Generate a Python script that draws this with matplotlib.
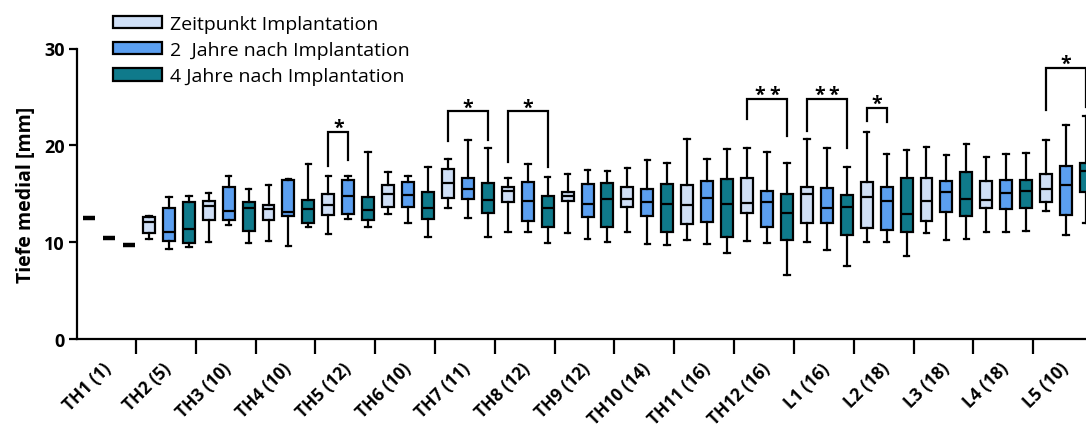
import matplotlib
matplotlib.use("Agg")
import matplotlib.pyplot as plt
from matplotlib.patches import Patch
import matplotlib.transforms as mtransforms

# ---------------- data ----------------
levels = ["TH1", "TH2", "TH3", "TH4", "TH5", "TH6", "TH7", "TH8", "TH9",
          "TH10", "TH11", "TH12", "L1", "L2", "L3", "L4", "L5"]
counts = [1, 5, 10, 10, 12, 10, 11, 12, 12, 14, 16, 16, 16, 18, 18, 18, 10]
series_names = ["Zeitpunkt Implantation", "2  Jahre nach Implantation",
                "4 Jahre nach Implantation"]

# (whisker low, Q1, median, Q3, whisker high) per level
implantation = [
    (12.5, 12.5, 12.5, 12.5, 12.5), (10.3, 10.9, 12.1, 12.6, 12.7),
    (10.0, 12.3, 13.7, 14.3, 15.1), (10.1, 12.3, 13.4, 13.8, 15.9),
    (10.8, 12.8, 13.8, 15.0, 16.8), (12.9, 13.6, 15.0, 15.9, 17.2),
    (13.5, 14.6, 16.1, 17.6, 18.6), (11.1, 14.1, 15.3, 15.7, 16.6),
    (10.9, 14.3, 14.8, 15.2, 17.0), (11.1, 13.6, 14.5, 15.7, 17.7),
    (10.2, 11.9, 13.8, 15.9, 20.7), (10.1, 13.0, 14.0, 16.6, 19.7),
    (10.0, 12.0, 15.0, 15.7, 20.7), (10.0, 11.5, 14.7, 16.2, 21.4),
    (10.9, 12.2, 14.3, 16.6, 19.8), (11.1, 13.5, 14.4, 16.3, 18.8),
    (13.2, 14.1, 15.5, 17.0, 20.6),
]
two_years = [
    (10.4, 10.4, 10.4, 10.4, 10.4), (9.3, 10.1, 11.1, 13.5, 14.7),
    (11.8, 12.3, 13.2, 15.7, 16.8), (9.6, 12.7, 13.1, 16.4, 16.5),
    (12.4, 12.9, 14.8, 16.4, 16.8), (12.0, 13.6, 14.9, 16.2, 16.8),
    (12.5, 14.5, 15.5, 16.6, 20.5), (11.1, 12.2, 14.2, 16.2, 18.1),
    (10.3, 12.6, 13.9, 16.0, 17.5), (9.8, 12.7, 14.1, 15.5, 18.5),
    (9.8, 12.1, 14.6, 16.3, 18.6), (9.9, 11.6, 14.1, 15.3, 19.3),
    (9.2, 12.0, 13.5, 15.6, 19.7), (10.0, 11.3, 14.3, 15.7, 19.1),
    (10.2, 13.1, 15.2, 16.3, 19.0), (11.1, 13.4, 15.1, 16.4, 19.1),
    (10.7, 12.8, 15.9, 17.9, 22.1),
]
four_years = [
    (9.7, 9.7, 9.7, 9.7, 9.7), (9.5, 9.9, 11.4, 14.1, 14.8),
    (9.9, 11.2, 13.5, 14.1, 15.5), (11.6, 12.0, 13.4, 14.4, 18.1),
    (11.6, 12.3, 13.3, 14.7, 19.3), (10.5, 12.4, 13.5, 15.2, 17.8),
    (10.5, 13.0, 14.4, 16.1, 19.7), (9.9, 11.6, 13.5, 14.8, 16.7),
    (10.0, 11.6, 14.5, 16.1, 17.4), (9.7, 11.1, 13.9, 16.0, 18.2),
    (8.9, 10.5, 13.9, 16.5, 19.6), (6.6, 10.2, 13.0, 15.0, 18.2),
    (7.5, 10.7, 13.6, 14.9, 17.8), (8.6, 11.0, 12.9, 16.6, 19.5),
    (10.3, 12.7, 14.5, 17.2, 20.1), (11.2, 13.5, 15.3, 16.4, 19.2),
    (12.0, 15.2, 17.3, 18.2, 23.0),
]

# significance: (level index, series a, series b, bracket top, leg a end, leg b end, label)
brackets = [
    (4, 0, 1, 21.4, 17.9, 18.5, "*"),
    (6, 0, 2, 23.5, 20.4, 20.5, "*"),
    (7, 0, 2, 23.5, 18.3, 17.8, "*"),
    (11, 0, 2, 24.8, 22.7, 21.0, "**"),
    (12, 0, 2, 24.8, 21.5, 19.7, "**"),
    (13, 0, 1, 23.9, 22.5, 22.4, "*"),
    (16, 0, 2, 28.0, 23.7, 24.0, "*"),
]

y_ticks = [0, 10, 20, 30]
colors = ["#cfdff6", "#5b9ff0", "#0f7a8b"]

# ---------------- plot ----------------
W, H = 1086, 435
fig = plt.figure(figsize=(W / 100, H / 100), dpi=100)
ax = fig.add_axes([77.3 / W, (H - 340) / H, 1 - 77.3 / W, (340 - 49.5) / H])

FONT = "Open Sans"
lw = 1.6
all_series = [implantation, two_years, four_years]
for s, data in enumerate(all_series):
    stats = []
    pos = []
    for g, (lo, q1, med, q3, hi) in enumerate(data):
        stats.append(dict(whislo=lo, q1=q1, med=med, q3=q3, whishi=hi, fliers=[]))
        pos.append(3 * g + s)
    bp = ax.bxp(stats, positions=pos, widths=0.6, patch_artist=True,
                showfliers=False, capwidths=0.28,
                boxprops=dict(facecolor=colors[s], edgecolor="black", linewidth=lw),
                whiskerprops=dict(color="black", linewidth=lw),
                capprops=dict(color="black", linewidth=lw),
                medianprops=dict(color="black", linewidth=lw))
    for st, med_line in zip(stats, bp["medians"]):
        if st["q1"] == st["q3"]:
            med_line.set_linewidth(3.2)
    for art in bp["boxes"] + bp["whiskers"] + bp["caps"] + bp["medians"]:
        art.set_clip_on(False)

# brackets
for g, a, b, top, ya, yb, lab in brackets:
    xa, xb = 3 * g + a, 3 * g + b
    ax.plot([xa, xa, xb, xb], [ya, top, top, yb], color="black", lw=lw,
            clip_on=False, solid_joinstyle="miter")
    n = len(lab)
    for k in range(n):
        off = mtransforms.offset_copy(ax.transData, fig=fig,
                                      x=(k - (n - 1) / 2) * 10.5, y=-1, units="points")
        ax.text((xa + xb) / 2, top, "*", transform=off, ha="center", va="baseline",
                fontsize=14, fontweight="bold", family=FONT, clip_on=False)

ax.set_xlim(-0.59, 50.0)
ax.set_ylim(0, 30)
ax.set_yticks(y_ticks)
ax.set_yticklabels([str(t) for t in y_ticks])

# major ticks: group separators, minor ticks: labels
ax.set_xticks([3 * g + 2.35 for g in range(len(levels) - 1)])
ax.set_xticklabels([])
ax.set_xticks([3 * g + 1 for g in range(len(levels))], minor=True)
ax.set_xticklabels([f"{l} ({c})" for l, c in zip(levels, counts)], minor=True,
                   rotation=45, ha="right", va="center", rotation_mode="anchor",
                   fontsize=12.5, fontweight="bold", family=FONT)
shift = mtransforms.ScaledTranslation(-3 / 100, 0, fig.dpi_scale_trans)
for lab in ax.get_xticklabels(minor=True):
    lab.set_transform(lab.get_transform() + shift)
ax.tick_params(axis="x", which="major", length=11, width=lw, direction="out")
ax.tick_params(axis="x", which="minor", length=0, pad=19)
ax.tick_params(axis="y", length=6, width=lw, pad=3)
for lab in ax.get_yticklabels():
    lab.set_fontsize(13)
    lab.set_fontweight("bold")
    lab.set_family(FONT)

for side in ["top", "right"]:
    ax.spines[side].set_visible(False)
for side in ["left", "bottom"]:
    ax.spines[side].set_linewidth(lw)

ax.set_ylabel("Tiefe medial [mm]", fontsize=14, fontweight="bold", family=FONT,
              labelpad=6)

handles = [Patch(facecolor=c, edgecolor="black", linewidth=lw) for c in colors]
fig.legend(handles, series_names, loc="upper left", bbox_to_anchor=(113 / W, 1 - 16 / H),
           frameon=False, prop=dict(family=FONT, size=14), handlelength=2.5,
           handleheight=0.6, handletextpad=0.45, labelspacing=0.42, borderaxespad=0,
           borderpad=0)

fig.savefig("out.png", dpi=100)
